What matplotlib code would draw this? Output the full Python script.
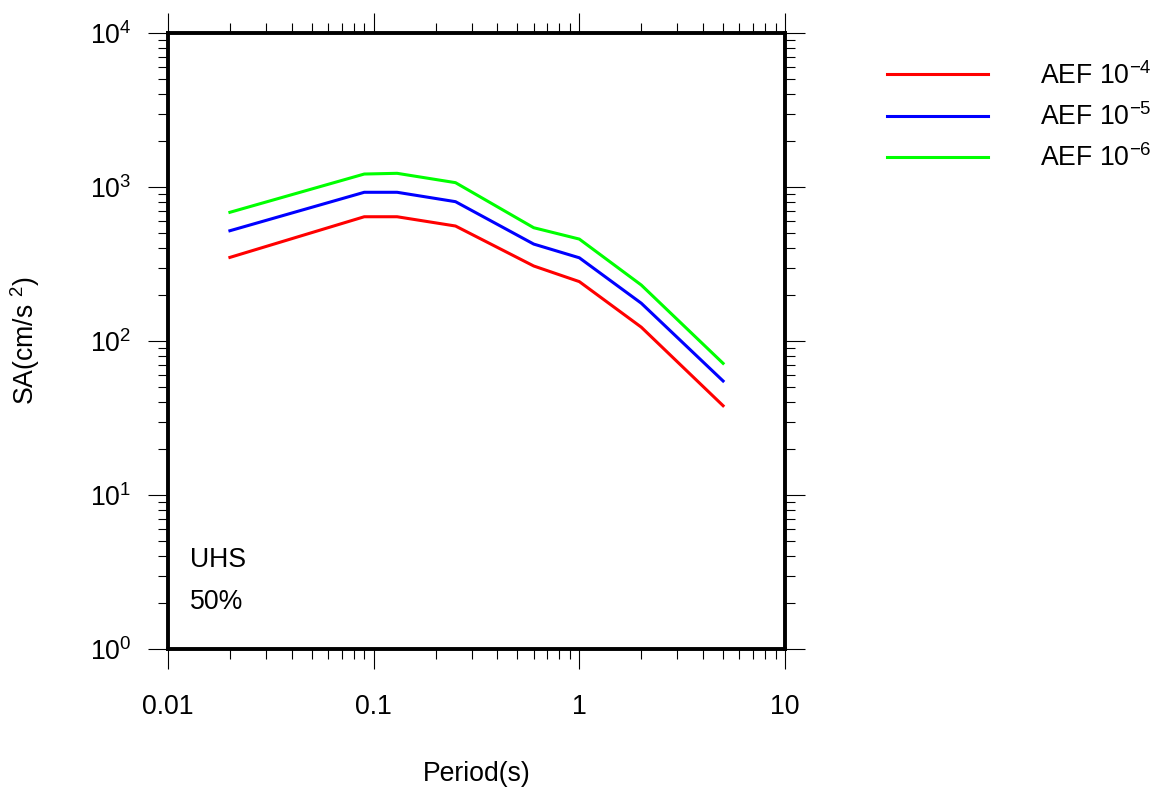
import numpy as np
import matplotlib
matplotlib.use('Agg')
import matplotlib.pyplot as plt
from matplotlib.ticker import FixedLocator, FixedFormatter, LogLocator, NullFormatter

plt.rcParams['font.family'] = ['Liberation Sans', 'DejaVu Sans']
plt.rcParams['mathtext.fontset'] = 'custom'
plt.rcParams['mathtext.rm'] = 'Liberation Sans'
plt.rcParams['mathtext.it'] = 'Liberation Sans:italic'
plt.rcParams['mathtext.bf'] = 'Liberation Sans:bold'

# periods (s) and spectral acceleration (cm/s^2)
period = [0.02, 0.09, 0.13, 0.25, 0.6, 1.0, 2.0, 5.0]
sa_aef4 = [349, 641, 641, 558, 307, 243, 123, 38]
sa_aef5 = [520, 924, 924, 803, 426, 347, 176, 55]
sa_aef6 = [685, 1214, 1227, 1067, 544, 459, 231, 71.6]

series_labels = [r'AEF $10^{-4}$', r'AEF $10^{-5}$', r'AEF $10^{-6}$']
series_colors = ['#ff0000', '#0000ff', '#00ff00']

x_ticks = [0.01, 0.1, 1, 10]
x_tick_labels = ['0.01', '0.1', '1', '10']
y_ticks = [1, 10, 100, 1000, 10000]
y_tick_labels = [r'$10^{0}$', r'$10^{1}$', r'$10^{2}$', r'$10^{3}$', r'$10^{4}$']

fs = 19.2

fig = plt.figure(figsize=(11.64, 7.91), dpi=100)
ax = fig.add_axes([168 / 1164, 1 - 649 / 791, 617 / 1164, 616 / 791])

for vals, lab, col in zip([sa_aef4, sa_aef5, sa_aef6], series_labels, series_colors):
    ax.plot(period, vals, color=col, lw=2.2, label=lab)

ax.set_xscale('log')
ax.set_yscale('log')
ax.set_xlim(0.01, 10)
ax.set_ylim(1, 10000)

ax.xaxis.set_major_locator(FixedLocator(x_ticks))
ax.xaxis.set_major_formatter(FixedFormatter(x_tick_labels))
ax.yaxis.set_major_locator(FixedLocator(y_ticks))
ax.yaxis.set_major_formatter(FixedFormatter(y_tick_labels))
ax.xaxis.set_minor_locator(LogLocator(base=10, subs=np.arange(2, 10)))
ax.yaxis.set_minor_locator(LogLocator(base=10, subs=np.arange(2, 10)))
ax.xaxis.set_minor_formatter(NullFormatter())
ax.yaxis.set_minor_formatter(NullFormatter())

ax.tick_params(which='both', direction='out', top=True, right=True, width=0.8, colors='black')
ax.tick_params(which='major', length=14.4, labelsize=fs)
ax.tick_params(which='minor', length=7.2)
ax.tick_params(axis='x', which='major', pad=18)
ax.tick_params(axis='y', which='major', pad=12)

for sp in ax.spines.values():
    sp.set_linewidth(2.8)

ax.set_xlabel('Period(s)', fontsize=fs)
ax.set_ylabel(r'SA(cm/s $^{2}$)', fontsize=fs)
ax.xaxis.set_label_coords(0.5, -0.182)
ax.yaxis.set_label_coords(-0.205, 0.5)

ax.text(0.036, 0.133, 'UHS', transform=ax.transAxes, fontsize=fs, va='baseline', ha='left')
ax.text(0.036, 0.065, '50%', transform=ax.transAxes, fontsize=fs, va='baseline', ha='left')

ax.legend(loc='upper left', bbox_to_anchor=(887 / 1164, 1 - 62 / 791),
          bbox_transform=fig.transFigure, frameon=False, fontsize=fs,
          handlelength=3.8, handletextpad=1.95, labelspacing=0.5,
          borderaxespad=0, borderpad=0)

fig.savefig('out.png', dpi=100)
